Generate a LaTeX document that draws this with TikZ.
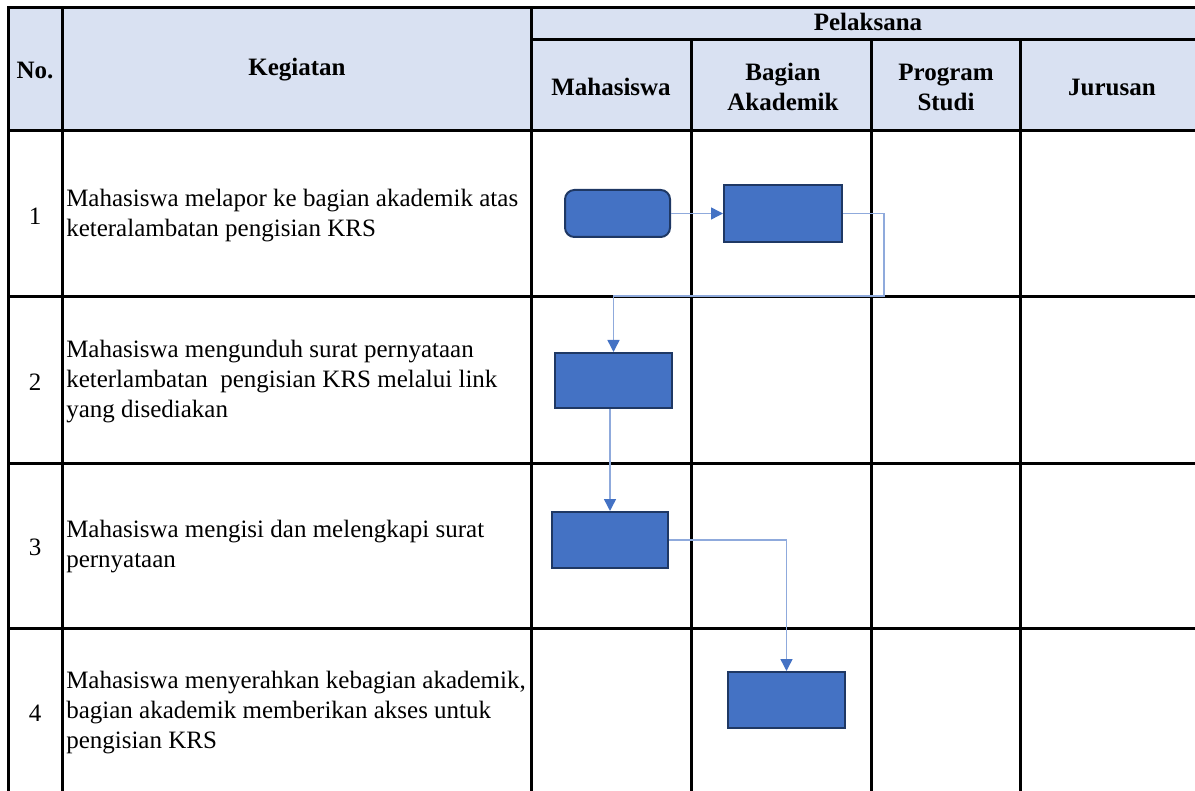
\documentclass[tikz,border=0pt]{standalone}
\usepackage{fontspec}
\setmainfont{Liberation Serif}
\usetikzlibrary{arrows.meta}
\definecolor{hdr}{HTML}{D9E1F2}
\definecolor{boxfill}{HTML}{4472C4}
\definecolor{boxline}{HTML}{1F3864}
\definecolor{conn}{HTML}{8FAADC}
\begin{document}
\begin{tikzpicture}[x=0.75pt,y=-0.75pt,
  grid/.style={line width=2.25pt,black,line cap=rect},
  txt/.style={font=\fontsize{18.75}{22.5}\selectfont,inner sep=0pt},
  hd/.style={font=\bfseries\fontsize{18.75}{22.5}\selectfont,inner sep=0pt,align=center},
  actbox/.style={draw=boxline,fill=boxfill,line width=1.5pt,inner sep=0pt},
  conline/.style={draw=conn,line width=1.1pt},
  tip/.style={-{Triangle[length=9pt,width=9pt,color=boxfill]}}
]
\useasboundingbox (0,0) rectangle (1195,791);
\clip (0,0) rectangle (1195,791);
% header fill
\fill[hdr] (8,8) rectangle (1210,131);
% grid
\draw[grid] (8,8) -- (1210,8);
\draw[grid] (531,40) -- (1210,40);
\foreach \yy in {131,297,463,628} \draw[grid] (8,\yy) -- (1210,\yy);
\foreach \xx in {8,62,531} \draw[grid] (\xx,8) -- (\xx,800);
\foreach \xx in {691,871,1020} \draw[grid] (\xx,40) -- (\xx,800);
% header texts
\node[hd] (hno) at (35,70) {No.};
\node[hd] (hkeg) at (297,70) {Kegiatan};
\node[hd] (hpel) at (868,22) {Pelaksana};
\node[hd] (hmah) at (611,87) {Mahasiswa};
\node[hd] (hbag) at (783,87) {Bagian\\Akademik};
\node[hd] (hpro) at (946,87) {Program\\Studi};
\node[hd] (hjur) at (1112,87) {Jurusan};
% numbers
\node[txt] (n1) at (35,216) {1};
\node[txt] (n2) at (35,382) {2};
\node[txt] (n3) at (35,547) {3};
\node[txt] (n4) at (35,713) {4};
% activity texts
\node[txt,anchor=west,align=left] (t1) at (66,216) {Mahasiswa melapor ke bagian akademik atas\\keteralambatan pengisian KRS};
\node[txt,anchor=west,align=left] (t2) at (66,382) {Mahasiswa mengunduh surat pernyataan\\keterlambatan\ \ pengisian KRS melalui link\\yang disediakan};
\node[txt,anchor=west,align=left] (t3) at (66,547) {Mahasiswa mengisi dan melengkapi surat\\pernyataan};
\node[txt,anchor=west,align=left] (t4) at (66,713) {Mahasiswa menyerahkan kebagian akademik,\\bagian akademik memberikan akses untuk\\pengisian KRS};
% flow boxes
\node[actbox,rounded corners=7pt,minimum width=105*0.75pt,minimum height=47*0.75pt] (s0) at (617.5,213.5) {};
\node[actbox,minimum width=118*0.75pt,minimum height=57*0.75pt] (b1) at (783,213.5) {};
\node[actbox,minimum width=117*0.75pt,minimum height=55*0.75pt] (b2) at (613.5,380.5) {};
\node[actbox,minimum width=116*0.75pt,minimum height=56*0.75pt] (b3) at (610,540) {};
\node[actbox,minimum width=117*0.75pt,minimum height=56*0.75pt] (b4) at (786.5,700) {};
% connectors
\coordinate (c1) at (884,213.5);
\coordinate (c2) at (884,296);
\coordinate (c3) at (613.5,296);
\draw[conline,tip] (s0.east) -- (b1.west);
\draw[conline,tip] (b1.east) -- (c1) -- (c2) -- (c3) -- (b2.north);
\draw[conline,tip] (b2.south -| b3.north) -- (b3.north);
\draw[conline,tip] (b3.east) -| (b4.north);
\end{tikzpicture}
\end{document}
